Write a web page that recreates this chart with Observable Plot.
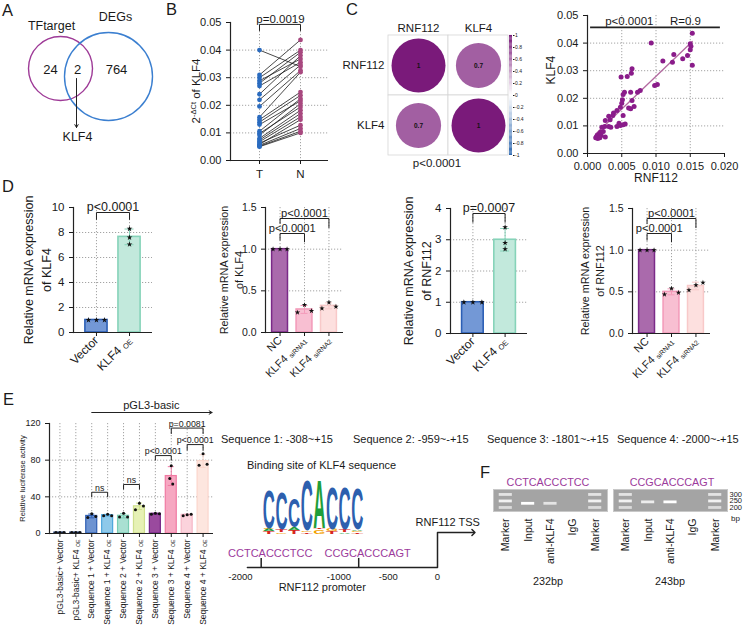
<!DOCTYPE html>
<html><head><meta charset="utf-8">
<script src="https://cdn.jsdelivr.net/npm/d3@7"></script>
<script src="https://cdn.jsdelivr.net/npm/@observablehq/plot@0.6"></script>
<style>
body{margin:0;background:#fff;}
#fig{position:relative;width:746px;height:625px;overflow:hidden;background:#fff;}
</style></head><body><div id="fig"></div>
<script>
// ---------------- DATA ----------------
// A: Venn
const vennSets = ["TFtarget", "DEGs"];
const vennCounts = [24, 2, 764];
const vennShared = "KLF4";
// B: paired tumour / normal 2^-dCt of KLF4
const pairedGroups = ["T", "N"];
const klf4T = [0.0400,0.0310,0.0300,0.0289,0.0280,0.0270,0.0240,0.0220,0.0196,0.0157,0.0148,0.0139,0.0130,0.0106,0.0098,0.0092,0.0080,0.0074,0.0068,0.0063,0.0058,0.0055,0.0052,0.0050];
const klf4N = [0.0340,0.0437,0.0400,0.0368,0.0392,0.0356,0.0380,0.0346,0.0326,0.0320,0.0248,0.0236,0.0216,0.0224,0.0194,0.0206,0.0182,0.0170,0.0158,0.0128,0.0148,0.0116,0.0106,0.0100];
const pairedP = ["p=0.0019"];
const pairedTicks = [0,0.01,0.02,0.03,0.04,0.05];
// C: correlation matrix + scatter
const corrGenes = ["RNF112", "KLF4"];
const corrMatrix = [[1, 0.7],[0.7, 1]];
const corrP = "p<0.0001";
const rnf112Expr = [0.0153,0.0093,0.0150,0.0151,0.0150,0.0126,0.0146,0.0139,0.0110,0.0124,0.0153,0.0065,0.0064,0.0058,0.0049,0.0102,0.0098,0.0077,0.0073,0.0063,0.0054,0.0052,0.0065,0.0051,0.0050,0.0068,0.0060,0.0063,0.0048,0.0043,0.0038,0.0052,0.0031,0.0037,0.0026,0.0033,0.0046,0.0055,0.0052,0.0043,0.0048,0.0025,0.0031,0.0034,0.0021,0.0019,0.0023,0.0017,0.0014,0.0020,0.0013,0.0015,0.0026,0.0017,0.0012,0.0018];
const klf4Expr = [0.0436,0.0400,0.0398,0.0389,0.0376,0.0359,0.0355,0.0343,0.0335,0.0331,0.0320,0.0307,0.0291,0.0279,0.0277,0.0250,0.0246,0.0228,0.0222,0.0222,0.0222,0.0214,0.0192,0.0195,0.0182,0.0170,0.0165,0.0162,0.0168,0.0156,0.0147,0.0138,0.0135,0.0138,0.0120,0.0122,0.0110,0.0107,0.0104,0.0098,0.0101,0.0098,0.0098,0.0095,0.0095,0.0077,0.0080,0.0071,0.0065,0.0065,0.0060,0.0054,0.0060,0.0062,0.0057,0.0057];
const scatterStats = ["p<0.0001", "R=0.9"];
const scatterXTicks = [0,0.005,0.01,0.015,0.02];
const scatterYTicks = [0,0.01,0.02,0.03,0.04,0.05];
// D: qPCR
const oeGroups = ["Vector", "KLF4 OE"];
const kdGroups = ["NC", "KLF4 siRNA1", "KLF4 siRNA2"];
const klf4OEReps = [[1,1,1],[8.3,7.6,7.05]];
const klf4KDReps = [[1,1,1],[0.24,0.33,0.26],[0.29,0.36,0.31]];
const rnf112OEReps = [[1,1,1],[3.4,2.9,2.7]];
const rnf112KDReps = [[1,1,1],[0.47,0.54,0.49],[0.52,0.58,0.61]];
const klf4OEP = ["p<0.0001"];
const klf4KDP = ["p<0.0001","p<0.0001"];
const rnf112OEP = ["p=0.0007"];
const rnf112KDP = ["p<0.0001","p<0.0001"];
const klf4OETicks = [0,2,4,6,8,10];
const rnf112OETicks = [0,1,2,3,4];
const kdTicks = [0,0.5,1.0,1.5];
// E: luciferase
const lucGroups = ["pGL3-basic+ Vector","pGL3-basic+ KLF4 OE","Sequence 1 + Vector","Sequence 1 + KLF4 OE","Sequence 2 + Vector","Sequence 2 + KLF4 OE","Sequence 3 + Vector","Sequence 3 + KLF4 OE","Sequence 4 + Vector","Sequence 4 + KLF4 OE"];
const lucReps = [[1,1,1],[1,1,1],[17.5,21.5,18.5],[19.5,21,19.5],[18,22,18],[26,33,30],[21,22,21.5],[60,74,54],[19.5,20.5,21],[74.5,87,75.5]];
const lucP = ["ns","ns","p<0.0001","p<0.0001","p=0.0081"];
const lucTicks = [0,40,80,120];
const seqRanges = ["Sequence 1: -308~+15","Sequence 2: -959~-+15","Sequence 3: -1801~-+15","Sequence 4: -2000~-+15"];
// Logo
const logoLetters = ["C","C","C","C","A","C","C","C"];
const logoBits = [1.53,1.45,1.14,2.0,1.92,1.65,1.65,1.61];
const logoMinorLetters = [["T","A","G"],["G","T"],["T","A"],["T","G"],["G","T"],["T","G"],["A","T"],["T","G","A"]];
const logoMinorBits = [[0.08,0.08,0.06],[0.06,0.1],[0.14,0.1],[0.06,0.06],[0.16,0.05],[0.1,0.08],[0.06,0.1],[0.05,0.06,0.05]];
// Promoter
const promoterTicks = [-2000,-1000,-500,0];
const bindingSites = [-1790,-800];
const bindingSeqs = ["CCTCACCCTCC","CCGCACCCAGT"];
// F: ChIP gels
const gelLaneIds = ["M1","IN","AB","IG","M2"];
const gelLaneNames = ["Marker","Input","anti-KLF4","IgG","Marker"];
const markerBands = [300,250,200];
const markerIntensity = [0.7,0.85,0.6];
const chipAmplicons = [232,243];
const chipInput = [1.0,0.8];
const chipAnti = [0.7,1.0];
const chipIgG = [0,0];
const chipProducts = ["232bp","243bp"];

// ---------------- HELPERS ----------------
const FONT = "'Liberation Sans', Arial, Helvetica, sans-serif";
const fig = document.getElementById("fig");
const baseStyle = {fontFamily: FONT, fontSize: "11px", color: "#1a1a1a", background: "transparent", overflow: "visible"};
const gridStyle = {stroke: "#9a9a9a", strokeDasharray: "1.2,1.8", strokeWidth: 0.9};
function place(el, left, top) {
  el.style.position = "absolute"; el.style.left = left + "px"; el.style.top = top + "px"; el.style.maxWidth = "none";
  fig.appendChild(el); return el;
}
function subscripts(svg) {
  d3.select(svg).selectAll("text").each(function() {
    if (this.childElementCount) return;
    const m = this.textContent.match(/^(.*KLF4) (OE|siRNA1|siRNA2)$/);
    if (!m) return;
    this.textContent = "";
    d3.select(this).append("tspan").text(m[1] + " ");
    d3.select(this).append("tspan").attr("font-size", "0.62em").attr("dy", "0.2em").text(m[2]);
  });
}

function barChart(c) {
  const stats = c.groups.map((g, i) => ({g, mean: d3.mean(c.reps[i]), sd: d3.deviation(c.reps[i]) || 0, fill: c.fills[i], stroke: c.strokes[i]}));
  const n = c.groups.length;
  const step = (c.width - c.ml - c.mr) / (n - c.pi + 2 * c.po);
  const bw = step * (1 - c.pi);
  const inset = (bw - c.capW) / 2;
  const dots = [];
  c.groups.forEach((g, i) => c.reps[i].forEach((v, j) => dots.push(
    Plot.dot([{g, v}], {x: "g", y: "v", dx: c.jitter[i][j], r: c.dotR, fill: "#111", symbol: c.symbol || "circle"}))));
  const bPts = c.brackets.flatMap((b, k) => [{g: b.a, v: b.y - b.da, k}, {g: b.a, v: b.y, k}, {g: b.b, v: b.y, k}, {g: b.b, v: b.y - b.db, k}]);
  const bLabels = c.brackets.map(b => Plot.text([b], {x: () => b.a, y: () => b.y, dx: (c.groups.indexOf(b.b) - c.groups.indexOf(b.a)) * step / 2, dy: -1.5, text: "label", lineAnchor: "bottom", fontSize: c.pFont}));
  const withSd = stats.filter(s => s.sd > 0.001);
  const plot = Plot.plot({
    width: c.width, height: c.height, marginLeft: c.ml, marginRight: c.mr, marginTop: c.mt, marginBottom: c.mb,
    style: baseStyle,
    x: {domain: c.groups, type: "band", paddingInner: c.pi, paddingOuter: c.po, round: false, label: null},
    y: {domain: c.yDomain, label: null},
    color: {type: "identity"},
    marks: [
      Plot.ruleY(c.grid, gridStyle),
      Plot.ruleX(c.groups, {x: d => d, ...gridStyle}),
      Plot.barY(stats, {x: "g", y: "mean", fill: "fill", stroke: "stroke", strokeWidth: c.strokeW}),
      Plot.ruleX(withSd, {x: "g", y1: d => d.mean - d.sd, y2: d => d.mean + d.sd, stroke: "stroke", strokeWidth: 1}),
      Plot.tickY(withSd, {x: "g", y: d => d.mean + d.sd, stroke: "stroke", insetLeft: inset, insetRight: inset}),
      Plot.tickY(withSd, {x: "g", y: d => d.mean - d.sd, stroke: "stroke", insetLeft: inset, insetRight: inset}),
      ...dots,
      Plot.line(bPts, {x: "g", y: "v", z: "k", stroke: "#222", strokeWidth: 1}),
      ...bLabels,
      ...(c.extra ? c.extra(step) : []),
      Plot.ruleY([c.yDomain[0]], {stroke: "#222", strokeWidth: 1.2}),
      Plot.frame({anchor: "left", stroke: "#222", strokeWidth: 1.2}),
      Plot.axisY({ticks: c.yTicks, tickFormat: c.fmt, tickSize: 4, fontSize: c.tickFont, label: null}),
      Plot.axisX({tickRotate: c.xRotate, tickSize: 4, tickPadding: 2, fontSize: c.xFont, label: null}),
      Plot.text([c.ylabel], {frameAnchor: "left", dx: c.ylabelDx, rotate: -90, text: d => d, fontSize: c.ylabelFont, lineHeight: c.ylabelLH, textAnchor: "middle", lineAnchor: "middle"})
    ]
  });
  place(plot, c.left, c.top);
  subscripts(plot);
  return plot;
}

// ---------------- A: Venn ----------------
place(Plot.plot({
  width: 160, height: 150, margin: 0, style: baseStyle,
  x: {domain: [0, 160], range: [0, 160], axis: null}, y: {domain: [0, 150], range: [0, 150], axis: null},
  marks: [
    Plot.dot([vennSets[0]], {x: () => 60, y: () => 68, r: 32, stroke: "#9e3a97", strokeWidth: 1.4, fill: "none"}),
    Plot.dot([vennSets[1]], {x: () => 108, y: () => 76, r: 44, stroke: "#3b7fd0", strokeWidth: 1.4, fill: "none"}),
    Plot.text([vennSets[0]], {x: () => 51, y: () => 25, text: d => d, fontSize: 12.5}),
    Plot.text([vennSets[1]], {x: () => 115, y: () => 16, text: d => d, fontSize: 12.5}),
    Plot.text([vennCounts[0]], {x: () => 50, y: () => 69, text: d => String(d), fontSize: 13}),
    Plot.text([vennCounts[1]], {x: () => 77, y: () => 69, text: d => String(d), fontSize: 13}),
    Plot.text([vennCounts[2]], {x: () => 116, y: () => 69, text: d => String(d), fontSize: 13}),
    Plot.arrow([vennShared], {x1: () => 76, y1: () => 78, x2: () => 76, y2: () => 127, headLength: 5, strokeWidth: 1, stroke: "#222"}),
    Plot.text([vennShared], {x: () => 77, y: () => 136, text: d => d, fontSize: 12.5})
  ]
}), 0, 0);

// ---------------- B: paired ----------------
const bPairs = klf4T.map((t, i) => ({t, n: klf4N[i]}));
const bTop = 0.0493;
place(Plot.plot({
  width: 175, height: 185, marginLeft: 70, marginRight: 7, marginTop: 22, marginBottom: 25, style: baseStyle,
  x: {type: "point", domain: pairedGroups, padding: 0.667, label: null},
  y: {domain: [0, 0.05], label: null},
  marks: [
    Plot.ruleY([0.01, 0.02, 0.03, 0.04], gridStyle),
    Plot.ruleX(pairedGroups, gridStyle),
    Plot.link(bPairs, {x1: () => pairedGroups[0], x2: () => pairedGroups[1], y1: "t", y2: "n", stroke: "#1a1a1a", strokeWidth: 0.8}),
    Plot.dot(bPairs, {x: () => pairedGroups[0], y: "t", fill: "#2a6bbf", r: 2.4}),
    Plot.dot(bPairs, {x: () => pairedGroups[1], y: "n", fill: "#a8487f", r: 2.4}),
    Plot.line([{g: "T", v: bTop - 0.0022}, {g: "T", v: bTop}, {g: "N", v: bTop}, {g: "N", v: bTop - 0.0022}], {x: "g", y: "v", stroke: "#222", strokeWidth: 1}),
    Plot.text(pairedP, {x: () => "T", dx: 21, y: () => bTop, dy: -1.5, text: d => d, lineAnchor: "bottom", fontSize: 11.5}),
    Plot.ruleY([0], {stroke: "#222", strokeWidth: 1.2}),
    Plot.frame({anchor: "left", stroke: "#222", strokeWidth: 1.2}),
    Plot.axisY({ticks: pairedTicks, tickFormat: ".2f", tickSize: 4, fontSize: 11, label: null}),
    Plot.axisX({tickSize: 4, fontSize: 11.5, label: null})
  ]
}), 160, 0);

// ---------------- C: correlation matrix ----------------
const corrColor = {type: "linear", domain: [-1, 0, 1], range: ["#2b67b0", "#ffffff", "#7a1a7a"]};
const corrCells = corrGenes.flatMap((a, i) => corrGenes.map((b, j) => ({row: a, col: b, r: corrMatrix[i][j]})));
place(Plot.plot({
  width: 200, height: 175, marginLeft: 58, marginRight: 22, marginTop: 35, marginBottom: 20, style: baseStyle,
  x: {domain: corrGenes, type: "band", padding: 0, round: false, label: null},
  y: {domain: corrGenes, type: "band", padding: 0, round: false, label: null},
  r: {type: "sqrt", domain: [0, 1], range: [0, 27]},
  color: corrColor,
  marks: [
    Plot.cell(corrCells, {x: "col", y: "row", fill: "white", stroke: "#d6d6d6", strokeWidth: 0.8}),
    Plot.dot(corrCells, {x: "col", y: "row", r: d => Math.abs(d.r), fill: "r"}),
    Plot.text(corrCells, {x: "col", y: "row", text: d => String(d.r), fontSize: 6.5, fontWeight: "bold", fill: "#111"}),
    Plot.axisX({anchor: "top", tickSize: 0, tickPadding: 4, fontSize: 11.5, label: null}),
    Plot.axisY({anchor: "left", tickSize: 0, tickPadding: 4, fontSize: 11.5, label: null})
  ]
}), 330, 0);
// colour bar
place(Plot.plot({
  width: 30, height: 130, marginLeft: 4, marginRight: 23, marginTop: 5, marginBottom: 5, style: baseStyle,
  y: {domain: [-1, 1], label: null},
  color: corrColor,
  marks: [
    Plot.rect(d3.range(-1, 1, 0.02), {y1: d => d, y2: d => d + 0.021, fill: d => d + 0.01}),
    Plot.axisY({anchor: "right", ticks: d3.ticks(-1, 1, 10), tickFormat: d => String(d), tickSize: 1.5, tickPadding: 1, fontSize: 5, label: null})
  ]
}), 505, 30);

// ---------------- C: scatter ----------------
const sc = rnf112Expr.map((x, i) => ({x, y: klf4Expr[i]}));
place(Plot.plot({
  width: 206, height: 190, marginLeft: 47, marginRight: 22, marginTop: 15, marginBottom: 37, style: baseStyle,
  x: {domain: [0, 0.02], label: null}, y: {domain: [0, 0.05], label: null},
  marks: [
    Plot.ruleX([0.005, 0.01, 0.015], gridStyle),
    Plot.ruleY([0.01, 0.02, 0.03, 0.04], gridStyle),
    Plot.linearRegressionY(sc, {x: "x", y: "y", stroke: "#b36aa0", strokeWidth: 1.3, ci: 0}),
    Plot.dot(sc, {x: "x", y: "y", fill: "#8a1c8a", r: 2.5}),
    Plot.ruleY([0.0457], {x1: 0.00045, x2: 0.0194, stroke: "#222", strokeWidth: 1.6}),
    Plot.text([scatterStats[0]], {x: () => 0.0061, y: () => 0.0478, text: d => d, fontSize: 11.5}),
    Plot.text([scatterStats[1]], {x: () => 0.0143, y: () => 0.0478, text: d => d, fontSize: 11.5}),
    Plot.ruleY([0], {stroke: "#222", strokeWidth: 1.2}),
    Plot.frame({anchor: "left", stroke: "#222", strokeWidth: 1.2}),
    Plot.axisX({ticks: scatterXTicks, tickFormat: ".3f", tickSize: 4, fontSize: 11, label: null}),
    Plot.axisY({ticks: scatterYTicks, tickFormat: ".2f", tickSize: 4, fontSize: 11, label: null}),
    Plot.text([corrGenes[1]], {frameAnchor: "left", dx: -36, rotate: -90, text: d => d, fontSize: 12}),
    Plot.text([corrGenes[0]], {frameAnchor: "bottom", dy: 28, text: d => d, fontSize: 12})
  ]
}), 540, 0);

// ---------------- D: bar charts ----------------
const oeFills = ["#7398d6", "#c2e9dc"], oeStrokes = ["#2c5fb5", "#86d3b9"];
const kdFills = ["#aa6aac", "#f8bfd2", "#fde0df"], kdStrokes = ["#7b2a88", "#f39ab9", "#f8c9c9"];
barChart({left: 0, top: 180, width: 160, height: 200, ml: 73, mr: 8, mt: 27, mb: 48, pi: 0.33, po: 0.36,
  groups: oeGroups, reps: klf4OEReps, fills: oeFills, strokes: oeStrokes, jitter: [[-8,0,8],[0,0,0]],
  yDomain: [0, 10], yTicks: klf4OETicks, grid: [2,4,6,8], fmt: d => String(d), tickFont: 11.5, xFont: 12, xRotate: -45,
  ylabel: "Relative mRNA expression\nof KLF4", ylabelDx: -37, ylabelFont: 12.5, ylabelLH: 1.44,
  dotR: 1.8, symbol: "star", capW: 9, strokeW: 1.6, pFont: 12.5,
  brackets: [{a: "Vector", b: "KLF4 OE", y: 9.6, da: 0.55, db: 0.55, label: klf4OEP[0]}]});
barChart({left: 190, top: 180, width: 160, height: 200, ml: 75, mr: 7, mt: 27, mb: 48, pi: 0.35, po: 0.27,
  groups: kdGroups, reps: klf4KDReps, fills: kdFills, strokes: kdStrokes, jitter: [[-7,0,7],[-7,0,7],[-7,0,7]],
  yDomain: [0, 1.5], yTicks: kdTicks, grid: [0.5, 1.0], fmt: ".1f", tickFont: 10.5, xFont: 11, xRotate: -45,
  ylabel: "Relative mRNA expression\nof KLF4", ylabelDx: -35, ylabelFont: 10.8, ylabelLH: 1.39,
  dotR: 1.7, symbol: "star", capW: 7, strokeW: 1.5, pFont: 11.2,
  brackets: [{a: "NC", b: "KLF4 siRNA2", y: 1.368, da: 0.06, db: 0.11, label: klf4KDP[0]},
             {a: "NC", b: "KLF4 siRNA1", y: 1.188, da: 0.08, db: 0.1, label: klf4KDP[1]}]});
barChart({left: 380, top: 180, width: 160, height: 200, ml: 70, mr: 13, mt: 28, mb: 47, pi: 0.33, po: 0.36,
  groups: oeGroups, reps: rnf112OEReps, fills: oeFills, strokes: oeStrokes, jitter: [[-9,0,9],[0,0,0]],
  yDomain: [0, 4], yTicks: rnf112OETicks, grid: [1,2,3], fmt: d => String(d), tickFont: 11.5, xFont: 12, xRotate: -45,
  ylabel: "Relative mRNA expression\nof RNF112", ylabelDx: -34, ylabelFont: 12.5, ylabelLH: 1.44,
  dotR: 1.8, symbol: "star", capW: 9, strokeW: 1.6, pFont: 12.5,
  brackets: [{a: "Vector", b: "KLF4 OE", y: 3.84, da: 0.28, db: 0.28, label: rnf112OEP[0]}]});
barChart({left: 560, top: 180, width: 186, height: 200, ml: 72, mr: 36, mt: 28, mb: 47, pi: 0.35, po: 0.27,
  groups: kdGroups, reps: rnf112KDReps, fills: kdFills, strokes: kdStrokes, jitter: [[-7,0,7],[-7,0,7],[-7,0,7]],
  yDomain: [0, 1.5], yTicks: kdTicks, grid: [0.5, 1.0], fmt: ".1f", tickFont: 10.5, xFont: 11, xRotate: -45,
  ylabel: "Relative mRNA expression\nof RNF112", ylabelDx: -41, ylabelFont: 10.8, ylabelLH: 1.39,
  dotR: 1.7, symbol: "star", capW: 7, strokeW: 1.5, pFont: 11.2,
  brackets: [{a: "NC", b: "KLF4 siRNA2", y: 1.38, da: 0.06, db: 0.11, label: rnf112KDP[0]},
             {a: "NC", b: "KLF4 siRNA1", y: 1.2, da: 0.08, db: 0.1, label: rnf112KDP[1]}]});

// ---------------- E: luciferase ----------------
const lucFills = ["#1f3b73","#1f3b73","#6d93d1","#8ec9ea","#a9e0d2","#e6f1b5","#9a4a9e","#f6a7c1","#fbd3dc","#fde6df"];
const lucStrokes = ["#1f3b73","#1f3b73","#2f5fb3","#4ea6dc","#78cdb3","#cfe08d","#732585","#f07aa3","#f6b6c6","#fbd6cc"];
const lucJitter = lucGroups.map((g, i) => i === 7 ? [-1.5, 0, 1.5] : [-4, 0, 4]);
const G = lucGroups;
barChart({left: 0, top: 380, width: 222, height: 245, ml: 49, mr: 9, mt: 43, mb: 92, pi: 0.31, po: 0.31,
  groups: lucGroups, reps: lucReps, fills: lucFills, strokes: lucStrokes, jitter: lucJitter,
  yDomain: [0, 120], yTicks: lucTicks, grid: [40, 80], fmt: d => String(d), tickFont: 9, xFont: 8.5, xRotate: -90,
  ylabel: "Relative luciferase activity", ylabelDx: -27, ylabelFont: 7.5, ylabelLH: 1,
  dotR: 1.5, symbol: "circle", capW: 6, strokeW: 1.2, pFont: 8.8,
  brackets: [
    {a: G[2], b: G[3], y: 45, da: 5, db: 5, label: lucP[0]},
    {a: G[4], b: G[5], y: 53.5, da: 5, db: 5, label: lucP[1]},
    {a: G[6], b: G[7], y: 85, da: 5, db: 5, label: lucP[2]},
    {a: G[8], b: G[9], y: 97, da: 6, db: 6, label: lucP[3]},
    {a: G[7], b: G[9], y: 115, da: 6, db: 6, label: lucP[4]}],
  extra: (step) => [
    Plot.arrow(["pGL3-basic"], {x1: () => G[2], x2: () => G[9], y1: () => 132, y2: () => 132, headLength: 5, insetEnd: -9, strokeWidth: 1, stroke: "#222", bend: 0}),
    Plot.text(["pGL3-basic"], {x: () => G[6], dx: -4, y: () => 132, dy: -4, lineAnchor: "bottom", text: d => d, fontSize: 11})
  ]});

// ---------------- Logo ----------------
const LOGO_FS = 40;
const logoColors = {A: "#1e9e3a", C: "#2d5fae", G: "#f2a100", T: "#d7261e"};
const logoData = logoLetters.flatMap((L, i) => {
  let y0 = 0; const out = [];
  logoMinorLetters[i].forEach((m, j) => { out.push({pos: i + 1, letter: m, bits: logoMinorBits[i][j], y0}); y0 += logoMinorBits[i][j]; });
  out.push({pos: i + 1, letter: L, bits: logoBits[i], y0});
  return out;
});
const logoSvg = place(Plot.plot({
  width: 120, height: 66, marginLeft: 7, marginRight: 12, marginTop: 6, marginBottom: 3, style: baseStyle,
  x: {domain: logoLetters.map((d, i) => i + 1), type: "band", padding: 0, round: false, axis: null},
  y: {domain: [0, 57 / 25.5], axis: null},
  marks: [Plot.text(logoData, {x: "pos", y: "y0", text: "letter", fill: d => logoColors[d.letter], fontSize: LOGO_FS, fontWeight: "bold", lineAnchor: "bottom", textAnchor: "middle"})]
}), 255, 470);
{
  const ly = logoSvg.scale("y"), lx = logoSvg.scale("x");
  const pxPerBit = ly.apply(0) - ly.apply(1);
  const lbw = lx.bandwidth;
  d3.select(logoSvg).selectAll('g[aria-label="text"] text').each(function(i) {
    const d = logoData[i];
    const tr = this.getAttribute("transform") || "";
    const m = tr.match(/translate\(([-\d.e]+)[ ,]+([-\d.e]+)\)/);
    const X = m ? +m[1] : (+this.getAttribute("x") || 0);
    const Y = m ? +m[2] : (+this.getAttribute("y") || 0);
    const w = this.getComputedTextLength() || LOGO_FS * 0.7;
    const sx = lbw * 0.96 / w, sy = d.bits * pxPerBit / (0.716 * LOGO_FS);
    this.removeAttribute("x"); this.removeAttribute("y");
    this.setAttribute("transform", `translate(${X},${Y}) scale(${sx},${sy})`);
  });
}

// ---------------- Promoter ----------------
place(Plot.plot({
  width: 270, height: 75, marginLeft: 20, marginRight: 53, marginTop: 7, marginBottom: 33, style: baseStyle,
  x: {domain: [-2000, 0], label: null}, y: {domain: [0, 1], axis: null},
  marks: [
    Plot.line([{x: -1930, y: 0}, {x: 0, y: 0}, {x: 0, y: 1}, {x: 365, y: 1}], {x: "x", y: "y", stroke: "#222", strokeWidth: 1.5, markerEnd: "arrow"}),
    Plot.ruleX(bindingSites, {y1: 0, y2: 0.26, stroke: "#222", strokeWidth: 1.5}),
    Plot.text(bindingSites.map((p, i) => ({p, s: bindingSeqs[i]})), {x: "p", y: () => 0.29, dx: 9, text: "s", lineAnchor: "bottom", fill: "#9c3b9c", fontSize: 11}),
    Plot.text(["RNF112 TSS"], {x: () => -223, y: () => 1, dy: -7, text: d => d, textAnchor: "start", lineAnchor: "bottom", fontSize: 11}),
    Plot.text(["RNF112 promoter"], {x: () => -1170, frameAnchor: "bottom", dy: 23, text: d => d, fontSize: 11}),
    Plot.axisX({ticks: promoterTicks, tickFormat: d => String(d), tickSize: 0, tickPadding: 6, fontSize: 9.5, label: null})
  ]
}), 220, 525);

// ---------------- F: gels ----------------
function gelPlot(k, left, showScale) {
  const bands = [];
  ["M1", "M2"].forEach(l => markerBands.forEach((bp, i) => bands.push({lane: l, bp, a: markerIntensity[i]})));
  bands.push({lane: "IN", bp: chipAmplicons[k], a: chipInput[k]});
  bands.push({lane: "AB", bp: chipAmplicons[k], a: chipAnti[k]});
  bands.push({lane: "IG", bp: chipAmplicons[k], a: chipIgG[k]});
  const bg = "#a4a4a4";
  const p = Plot.plot({
    width: 114, height: 100, marginLeft: 0, marginRight: 0, marginTop: 9, marginBottom: 69, style: baseStyle,
    x: {domain: gelLaneIds, type: "band", padding: 0.1, round: false, label: null},
    y: showScale ? {domain: [169, 338], label: null} : {domain: [169, 338], axis: null},
    color: {type: "identity"},
    marks: [
      Plot.frame({fill: bg, stroke: "#c8c8c8"}),
      Plot.tickY(bands.filter(b => b.a > 0), {x: "lane", y: "bp", stroke: d => d3.interpolateRgb(bg, "#ffffff")(d.a), strokeWidth: 2.8, insetLeft: 3.5, insetRight: 3.5}),
      Plot.axisX({tickSize: 0, tickRotate: -90, tickPadding: 7, fontSize: 10.5, label: null, tickFormat: id => gelLaneNames[gelLaneIds.indexOf(id)]}),
      ...(showScale ? [Plot.axisY({anchor: "right", ticks: markerBands, tickSize: 0, tickPadding: 2, fontSize: 7.5, label: null})] : [])
    ]
  });
  return place(p, left, 480);
}
gelPlot(0, 493, false);
gelPlot(1, 613, true);

// ---------------- Free text overlay ----------------
const ov = d3.create("svg").attr("width", 746).attr("height", 625)
  .style("position", "absolute").style("left", "0px").style("top", "0px")
  .style("font-family", FONT).style("overflow", "visible");
function note(t, x, y, o = {}) {
  return ov.append("text").attr("x", x).attr("y", y).attr("font-size", o.fs || 11)
    .attr("text-anchor", o.anchor || "start").attr("fill", o.fill || "#1a1a1a").text(t);
}
[["A", 2, 16], ["B", 166, 15], ["C", 346, 15], ["D", 2, 192], ["E", 3, 405], ["F", 480, 478]]
  .forEach(([t, x, y]) => note(t, x, y, {fs: 16.5}));
const bl = ov.append("text").attr("transform", "translate(200,91) rotate(-90)").attr("text-anchor", "middle").attr("font-size", 11.5).attr("fill", "#1a1a1a");
bl.append("tspan").text("2");
bl.append("tspan").attr("font-size", 7.5).attr("dy", -4.5).text("-ΔCt");
bl.append("tspan").attr("dy", 4.5).text(" of KLF4");
note(corrP, 437, 167, {fs: 11.5, anchor: "middle"});
[221, 353, 487, 617].forEach((x, i) => note(seqRanges[i], x, 443, {fs: 11}));
note("Binding site of KLF4 sequence", 247, 469, {fs: 11});
note(bindingSeqs[0], 548, 486, {fs: 10.8, anchor: "middle", fill: "#9c3b9c"});
note(bindingSeqs[1], 672, 486, {fs: 10.8, anchor: "middle", fill: "#9c3b9c"});
note(chipProducts[0], 548, 585, {fs: 10.8, anchor: "middle"});
note(chipProducts[1], 670, 585, {fs: 10.8, anchor: "middle"});
note("bp", 731, 521, {fs: 8});
fig.appendChild(ov.node());
</script></body></html>
